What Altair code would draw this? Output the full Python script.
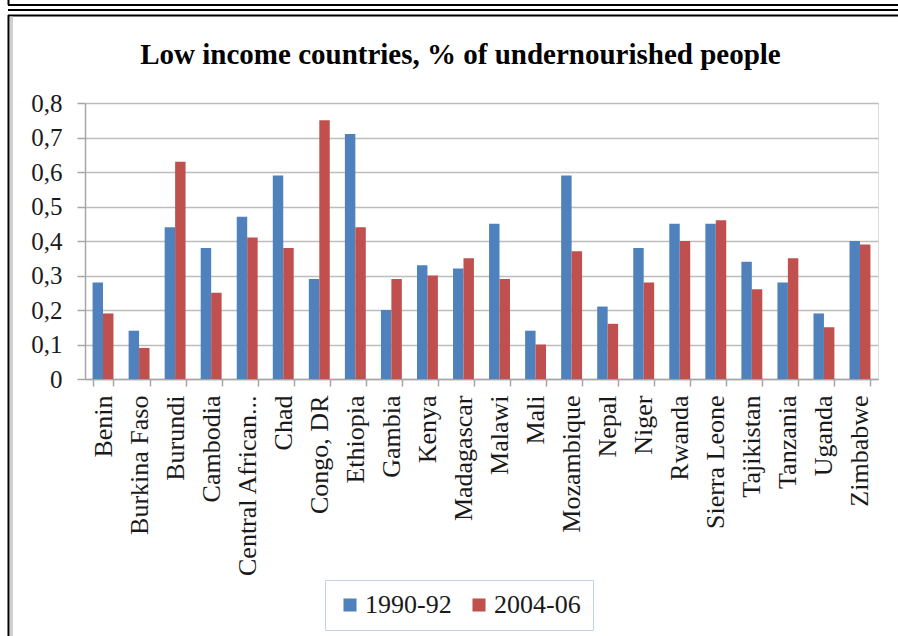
import altair as alt
import pandas as pd

countries = ["Benin", "Burkina Faso", "Burundi", "Cambodia", "Central African Republic",
             "Chad", "Congo, DR", "Ethiopia", "Gambia", "Kenya", "Madagascar", "Malawi",
             "Mali", "Mozambique", "Nepal", "Niger", "Rwanda", "Sierra Leone",
             "Tajikistan", "Tanzania", "Uganda", "Zimbabwe"]
v_1990_92 = [0.28, 0.14, 0.44, 0.38, 0.47, 0.59, 0.29, 0.71, 0.20, 0.33, 0.32,
             0.45, 0.14, 0.59, 0.21, 0.38, 0.45, 0.45, 0.34, 0.28, 0.19, 0.40]
v_2004_06 = [0.19, 0.09, 0.63, 0.25, 0.41, 0.38, 0.75, 0.44, 0.29, 0.30, 0.35,
             0.29, 0.10, 0.37, 0.16, 0.28, 0.40, 0.46, 0.26, 0.35, 0.15, 0.39]
periods = ["1990-92", "2004-06"]
colors = ["#4F81BD", "#C0504D"]
y_ticks = [0, 0.1, 0.2, 0.3, 0.4, 0.5, 0.6, 0.7, 0.8]
title_text = "Low income countries, % of undernourished people"

rows = []
for c, a, b in zip(countries, v_1990_92, v_2004_06):
    rows.append({"country": c, "period": periods[0], "value": a})
    rows.append({"country": c, "period": periods[1], "value": b})
df = pd.DataFrame(rows)

FONT = "Liberation Serif"
TXT = "#1a1a1a"

bars = alt.Chart(df).mark_bar().encode(
    x=alt.X("country:N", sort=countries,
            scale=alt.Scale(paddingInner=0.42, paddingOuter=0.21),
            axis=alt.Axis(title=None, labelAngle=-90, labelFont=FONT, labelFontSize=26,
                          labelColor=TXT, labelPadding=9, tickSize=7, tickBand="extent",
                          tickColor="#a6a6a6", tickWidth=1.5, domainColor="#a6a6a6",
                          domainWidth=1.5, labelLimit=300,
                          labelExpr="datum.label == 'Central African Republic' ? 'Central African...' : datum.label")),
    xOffset=alt.XOffset("period:N", sort=periods, scale=alt.Scale(paddingInner=0, paddingOuter=0)),
    y=alt.Y("value:Q", scale=alt.Scale(domain=[0, 0.8], nice=False),
            axis=alt.Axis(title=None, values=y_ticks, labelFont=FONT, labelFontSize=25,
                          labelColor=TXT, labelPadding=15, tickSize=8, tickColor="#a6a6a6",
                          tickWidth=1.5, domainColor="#a6a6a6", domainWidth=1.5,
                          gridColor="#bdbdbd", gridWidth=1.6,
                          labelExpr="datum.value == 0 ? '0' : replace(format(datum.value, '.1f'), '.', ',')")),
    color=alt.Color("period:N", sort=periods,
                    scale=alt.Scale(domain=periods, range=colors),
                    legend=alt.Legend(title=None, orient="none", direction="horizontal",
                                      legendX=240, legendY=477, padding=12,
                                      strokeColor="#c3d1e6", symbolType="square",
                                      symbolSize=170, symbolStrokeWidth=0,
                                      labelFont=FONT, labelFontSize=26, labelColor=TXT,
                                      labelOffset=2, columnPadding=14, labelLimit=200)),
)

frame_df = pd.DataFrame({"k": [0]})
black = "#000000"

def hline(y, x1, x2, color=black, w=2):
    return alt.Chart(frame_df).mark_rule(color=color, strokeWidth=w).encode(
        x=alt.value(x1), x2=alt.value(x2), y=alt.value(y))

def vline(x, y1, y2, color=black, w=2):
    return alt.Chart(frame_df).mark_rule(color=color, strokeWidth=w).encode(
        x=alt.value(x), y=alt.value(y1), y2=alt.value(y2))

frame = alt.layer(
    hline(-98, -77, 813),
    hline(-93, -77, 813),
    hline(-87.5, -77, 813),
    vline(-76.5, -103, -98),
    vline(-76.5, -88, 533),
    vline(-73.5, -86.5, 533, color="#cfcfcf", w=3),
)

chart = alt.layer(bars, frame).properties(
    width=793, height=276,
    autosize=alt.AutoSizeParams(type="none"),
    padding={"left": 85, "top": 103, "right": 20, "bottom": 257},
    title=alt.TitleParams(title_text, font=FONT, fontSize=29, fontWeight="bold",
                          color=black, anchor="middle", frame="group", dx=-21,
                          offset=0, dy=71),
).configure_view(stroke=None).configure(
    background="white", font=FONT
).configure_legend(labelFont=FONT, labelFontSize=26, labelColor=TXT)

chart.save("out.html", embed_options={"renderer": "svg", "actions": False})
